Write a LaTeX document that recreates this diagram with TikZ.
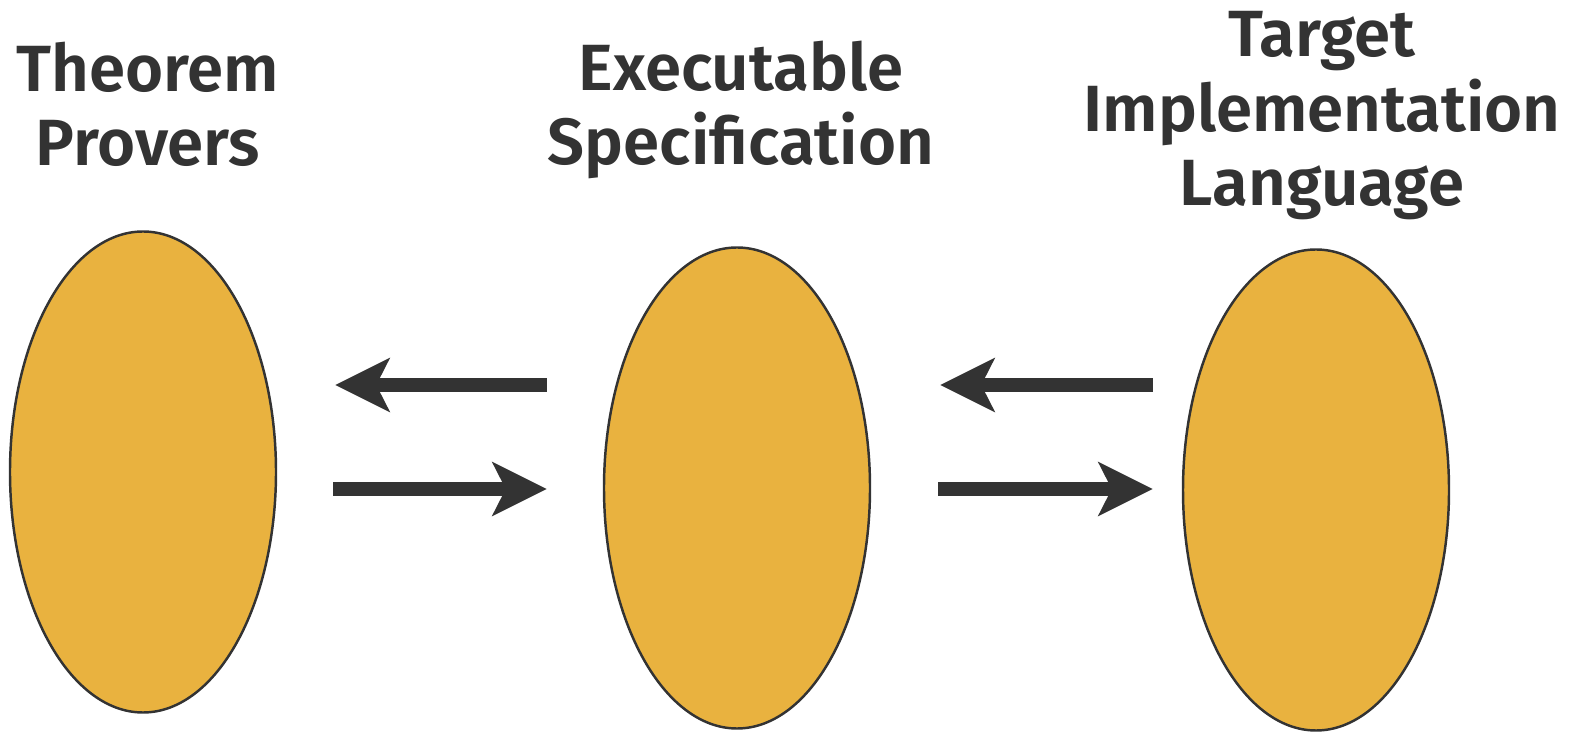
\documentclass[tikz,border=0pt]{standalone}
\usepackage{fontspec}
\setmainfont{Fira Sans}[BoldFont={Fira Sans SemiBold}]
\usetikzlibrary{arrows.meta,shapes.geometric}
\definecolor{darkink}{HTML}{333333}
\definecolor{gold}{HTML}{E9B23F}
\tikzset{%
  >={Stealth[length=5.4mm,width=5.3mm,inset=1.3mm]},
  % Specifications for style of nodes:
       blob/.style = {ellipse, draw=darkink, line width=0.7pt, fill=gold,
                      minimum width=2.66cm, minimum height=4.81cm, inner sep=0pt},
      title/.style = {align=center, text=darkink, inner sep=0pt, anchor=base,
                      font=\bfseries\fontsize{18.6}{21.3}\selectfont},
       flow/.style = {->, draw=darkink, line width=4pt},
}

\begin{document}
\begin{tikzpicture}
  \useasboundingbox (0,0) rectangle (15.73,-7.34);
  % Specification of nodes (position, etc.)
  \node (provers)    [blob] at (1.43,-4.72) {};
  \node (spec)       [blob] at (7.37,-4.88) {};
  \node (target)     [blob] at (13.16,-4.90) {};

  % titles, anchored at the baseline of their last line
  \node (provers t)  [title] at (1.48,-1.66) {Theorem\\Provers};
  \node (spec t)     [title] at (7.41,-1.65) {Executable\\Specification};
  \node (target t)   [title] at (13.22,-2.06) {Target\\Implementation\\Language};

  \coordinate (upper) at (0,-3.85);
  \coordinate (lower) at (0,-4.89);

  \draw[flow, shorten <=0.56cm, shorten >=0.58cm]  (spec.west |- upper) -- (provers.east |- upper);
  \draw[flow, shorten <=0.56cm, shorten >=0.56cm]  (provers.east |- lower) -- (spec.west |- lower);
  \draw[flow, shorten <=0.29cm, shorten >=0.69cm]  (target.west |- upper) -- (spec.east |- upper);
  \draw[flow, shorten <=0.67cm, shorten >=0.29cm]  (spec.east |- lower) -- (target.west |- lower);
\end{tikzpicture}
\end{document}
